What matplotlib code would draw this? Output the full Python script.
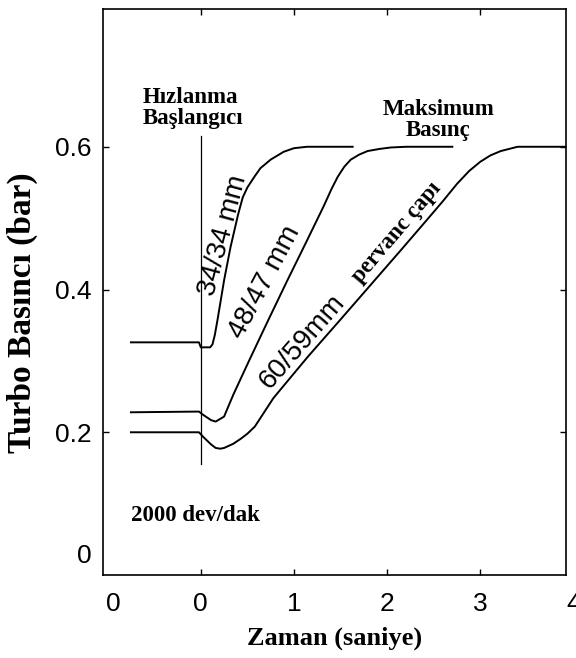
import matplotlib
matplotlib.use("Agg")
import matplotlib.pyplot as plt

# ------------------------------------------------------------------ data
# turbo boost pressure (bar) vs time (s), three impeller sizes
t_34 = [-0.75, -0.02, 0.0, 0.10, 0.125, 0.15, 0.18, 0.25, 0.32, 0.40, 0.45,
        0.50, 0.57, 0.64, 0.75, 0.89, 1.00, 1.14, 1.63]
p_34 = [0.326, 0.326, 0.319, 0.319, 0.323, 0.336, 0.358, 0.413, 0.460, 0.505,
        0.529, 0.543, 0.557, 0.570, 0.582, 0.593, 0.598, 0.600, 0.600]

t_48 = [-0.75, -0.02, 0.03, 0.11, 0.16, 0.25, 0.35, 0.51, 0.72, 0.93, 1.13,
        1.32, 1.40, 1.47, 1.54, 1.61, 1.70, 1.79, 1.92, 2.04, 2.20, 2.70]
p_48 = [0.228, 0.229, 0.224, 0.217, 0.215, 0.222, 0.253, 0.298, 0.356, 0.413,
        0.466, 0.517, 0.540, 0.558, 0.572, 0.582, 0.589, 0.594, 0.597, 0.599,
        0.600, 0.600]

t_60 = [-0.75, -0.02, 0.03, 0.11, 0.16, 0.21, 0.25, 0.35, 0.43, 0.50, 0.58,
        0.78, 1.15, 1.50, 1.82, 2.14, 2.43, 2.60, 2.75, 2.88, 3.00, 3.11,
        3.22, 3.40, 3.92]
p_60 = [0.200, 0.200, 0.193, 0.183, 0.178, 0.177, 0.178, 0.184, 0.191, 0.198,
        0.208, 0.248, 0.306, 0.358, 0.406, 0.454, 0.498, 0.524, 0.548, 0.566,
        0.579, 0.588, 0.594, 0.600, 0.600]

accel_t = 0.0
accel_span = [0.155, 0.615]

xticks = [0, 1, 2, 3]
xtick_labels = ["0", "1", "2", "3"]
yticks = [0.2, 0.4, 0.6]
ytick_labels = ["0.2", "0.4", "0.6"]

SERIF = "Liberation Serif"
SANS = "Liberation Sans"

fig = plt.figure(figsize=(5.76, 6.58), dpi=100)
ax = fig.add_axes([0.1788, 0.1261, 0.8038, 0.8602])

for t, p in ((t_34, p_34), (t_48, p_48), (t_60, p_60)):
    ax.plot(t, p, color="black", lw=1.4, solid_joinstyle="round")
ax.plot([accel_t, accel_t], accel_span, color="black", lw=0.9)

ax.set_xlim(-1.05, 3.92)
ax.set_ylim(0.0, 0.793)
ax.set_xticks(xticks)
ax.set_xticklabels(xtick_labels, fontfamily=SANS, fontsize=19)
ax.set_yticks(yticks)
ax.set_yticklabels(ytick_labels, fontfamily=SANS, fontsize=19)
ax.tick_params(direction="in", length=4, width=1, top=True, right=True)
ax.tick_params(axis="x", pad=12)
ax.tick_params(axis="y", pad=8)
for sp in ax.spines.values():
    sp.set_linewidth(1.2)

# extra tick labels that sit outside the regular ticks
ax.annotate("0", xy=(-0.94, 0), xycoords=("data", "axes fraction"),
            xytext=(0, -12), textcoords="offset points", ha="center", va="top",
            fontfamily=SANS, fontsize=19, annotation_clip=False)
ax.annotate("4", xy=(4.0, 0), xycoords=("data", "axes fraction"),
            xytext=(0, -12), textcoords="offset points", ha="center", va="top",
            fontfamily=SANS, fontsize=19, annotation_clip=False)
ax.annotate("0", xy=(0, 0.026), xycoords=("axes fraction", "data"),
            xytext=(-8, 0), textcoords="offset points", ha="right", va="center",
            fontfamily=SANS, fontsize=19, annotation_clip=False)

ax.set_xlabel("Zaman (saniye)", fontfamily=SERIF, fontweight="bold",
              fontsize=19, labelpad=8)
ax.set_ylabel("Turbo Basıncı (bar)", fontfamily=SERIF, fontweight="bold",
              fontsize=24)
ax.yaxis.set_label_coords(-0.140, 0.463)

bold = dict(fontfamily=SERIF, fontweight="bold", fontsize=16.5)
ax.text(-0.627, 0.655, "Hızlanma\nBaşlangıcı", ha="left", va="center",
        linespacing=1.0, **bold)
ax.text(2.55, 0.638, "Maksimum\nBasınç", ha="center", va="center",
        linespacing=1.0, **bold)
ax.text(-0.75, 0.083, "2000 dev/dak", ha="left", va="center", **bold)

rot = dict(fontfamily=SANS, fontsize=20, ha="center", va="center",
           rotation_mode="anchor")
ax.text(0.24, 0.476, "34/34 mm", rotation=75, **rot)
ax.text(0.69, 0.41, "48/47 mm", rotation=62, **rot)
ax.text(1.09, 0.327, "60/59mm", rotation=49, **rot)
ax.text(2.10, 0.48, "pervanc çapı", rotation=49.5, ha="center", va="center",
        rotation_mode="anchor", **bold)

fig.savefig("out.png", dpi=100)
